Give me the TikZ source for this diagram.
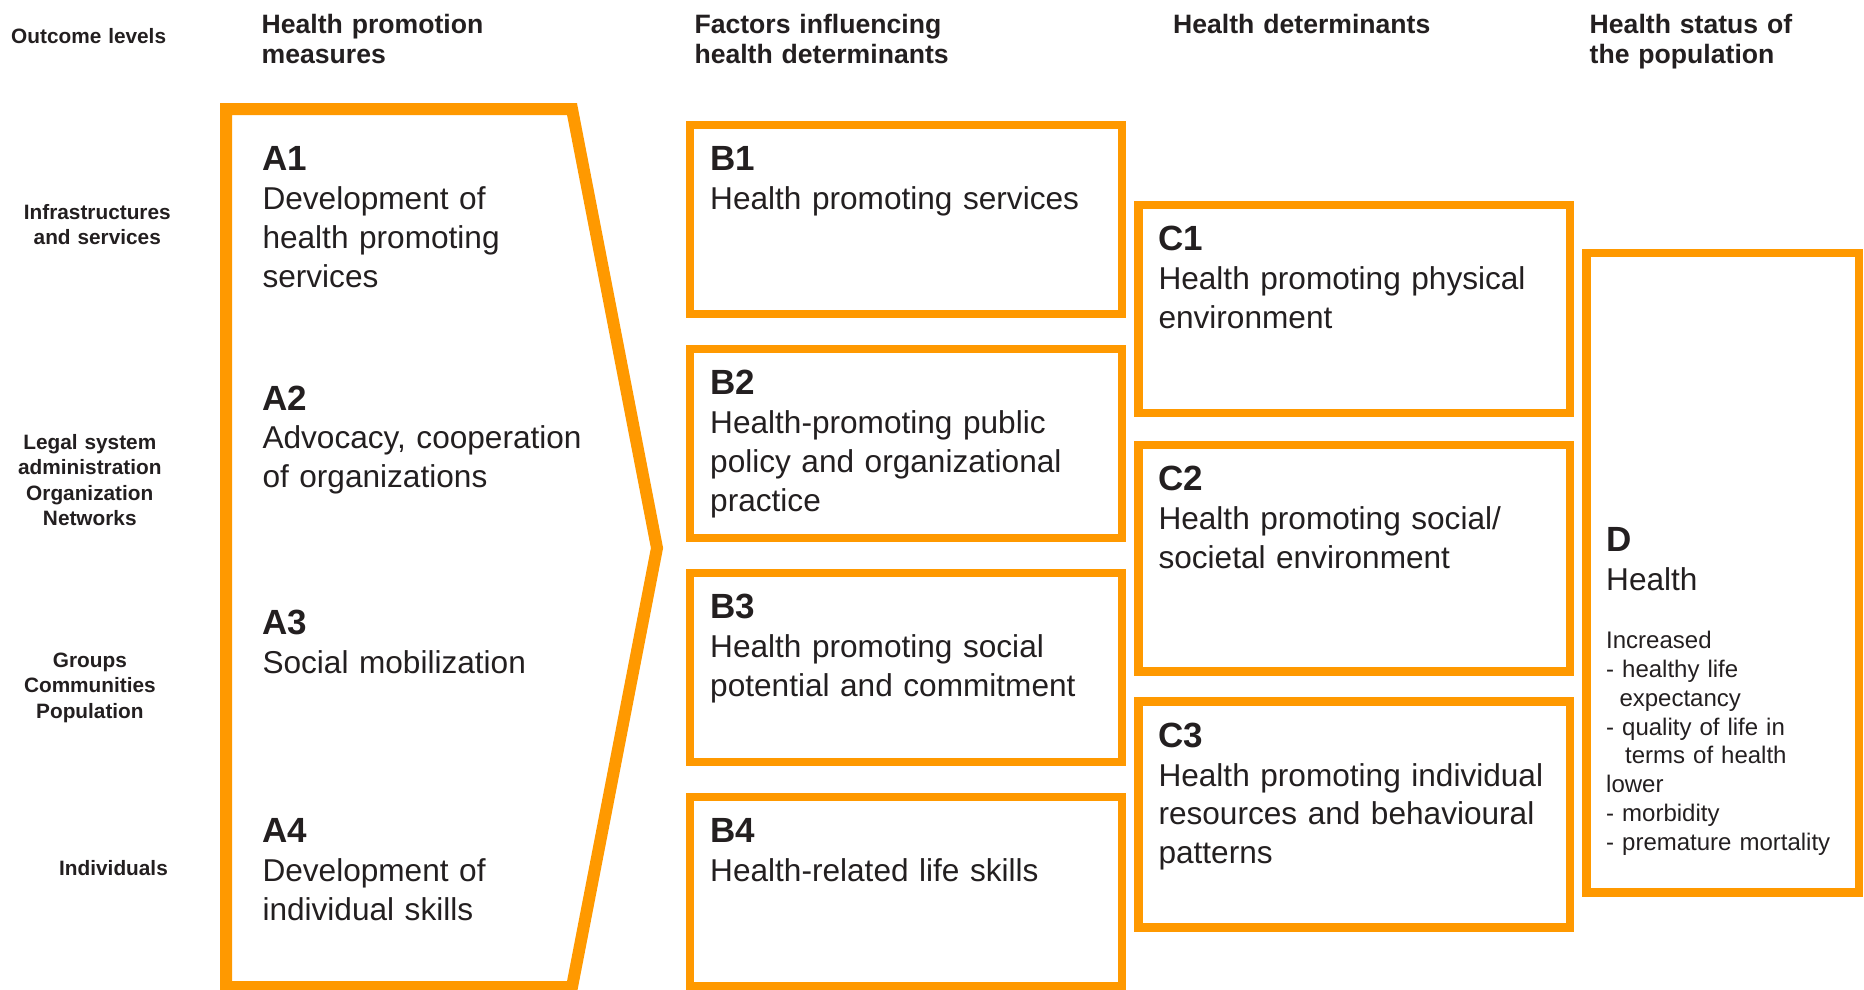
\documentclass[tikz,border=0pt]{standalone}
\usepackage{fontspec}
\setmainfont{Liberation Sans}
\usetikzlibrary{positioning}
\definecolor{hporange}{RGB}{255,153,0}
\definecolor{hptext}{RGB}{35,31,32}
\newcommand{\boxlbl}[1]{{\fontsize{35}{38.8}\selectfont\bfseries #1}}

\begin{document}
\begin{tikzpicture}[x=1pt, y=-1pt, text=hptext,
  hbox/.style={draw=hporange, line width=8.3pt, inner sep=0pt, outer sep=0pt},
  hdr/.style={anchor=base west, inner sep=0pt, text width=320pt, align=left, font=\fontsize{26.6}{30}\selectfont\bfseries},
  lvl/.style={anchor=base, inner sep=0pt, text width=200pt, align=center, font=\fontsize{20.8}{25.6}\selectfont\bfseries},
  txt/.style={anchor=base west, inner sep=0pt, text width=420pt, align=left, font=\fontsize{31.6}{38.8}\selectfont},
  small/.style={anchor=base west, inner sep=0pt, text width=250pt, align=left, font=\fontsize{24}{28.9}\selectfont}]
\useasboundingbox (0,0) rectangle (1864,990);

% column headings
\node[hdr, font=\fontsize{20.8}{25.6}\selectfont\bfseries] (h0) at (11,43.3) {Outcome levels};
\node[hdr] (h1) at (261.5,33.3) {Health promotion\\measures};
\node[hdr] (h2) at (694.3,33.3) {Factors influencing\\health determinants};
\node[hdr] (h3) at (1173,33.3) {Health determinants};
\node[hdr] (h4) at (1589.5,33.3) {Health status of\\the population};

% outcome levels
\node[lvl] (l1) at (97.3,219) {Infrastructures\\and services};
\node[lvl] (l2) at (89.8,449.1) {Legal system\\administration\\Organization\\Networks};
\node[lvl] (l3) at (89.9,667.2) {Groups\\Communities\\Population};
\node[lvl] (l4) at (113.5,875.2) {Individuals};

% A: health promotion measures
\coordinate (pa) at (226,109);
\draw[hporange, line width=12pt, miter limit=3] (pa) -- (572,109) -- (657,548) -- (572,987) -- (226,987) -- cycle;
\node[txt] (a1) at ([shift={(36.3,61.7)}]pa) {\boxlbl{A1}\\Development of\\health promoting\\services};
\node[txt] (a2) at ([shift={(36.3,301)}]pa) {\boxlbl{A2}\\Advocacy, cooperation\\of organizations};
\node[txt] (a3) at ([shift={(36.3,525.5)}]pa) {\boxlbl{A3}\\Social mobilization};
\node[txt] (a4) at ([shift={(36.3,733.6)}]pa) {\boxlbl{A4}\\Development of\\individual skills};

% B: factors influencing health determinants
\node[hbox, minimum width=432pt, minimum height=189pt] (b1) at (906,219.5) {};
\node[hbox, minimum width=432pt, minimum height=189pt, below=35pt of b1] (b2) {};
\node[hbox, minimum width=432pt, minimum height=189pt, below=35pt of b2] (b3) {};
\node[hbox, minimum width=432pt, minimum height=189pt, below=35pt of b3] (b4) {};
\node[txt] (b1t) at ([shift={(20,45.7)}]b1.north west) {\boxlbl{B1}\\Health promoting services};
\node[txt] (b2t) at ([shift={(20,45.7)}]b2.north west) {\boxlbl{B2}\\Health-promoting public\\policy and organizational\\practice};
\node[txt] (b3t) at ([shift={(20,45.7)}]b3.north west) {\boxlbl{B3}\\Health promoting social\\potential and commitment};
\node[txt] (b4t) at ([shift={(20,45.7)}]b4.north west) {\boxlbl{B4}\\Health-related life skills};

% C: health determinants
\node[hbox, minimum width=431.5pt, minimum height=208pt] (c1) at (1354.25,309) {};
\node[hbox, minimum width=431.5pt, minimum height=226.5pt, below=32pt of c1] (c2) {};
\node[hbox, minimum width=431.5pt, minimum height=226pt, below=30pt of c2] (c3) {};
\node[txt] (c1t) at ([shift={(19.8,45.7)}]c1.north west) {\boxlbl{C1}\\Health promoting physical\\environment};
\node[txt] (c2t) at ([shift={(19.8,45.7)}]c2.north west) {\boxlbl{C2}\\Health promoting social/\\societal environment};
\node[txt] (c3t) at ([shift={(19.8,45.7)}]c3.north west) {\boxlbl{C3}\\Health promoting individual\\resources and behavioural\\patterns};

% D: health status
\node[hbox, minimum width=272.5pt, minimum height=639.2pt] (d) at (1722.75,572.9) {};
\node[txt] (dt) at ([shift={(19.5,298.4)}]d.north west) {\boxlbl{D}\\Health};
\node[small] (dl) at ([shift={(19.5,395)}]d.north west) {Increased\\- healthy life\\\hspace*{13.3pt}expectancy\\- quality of life in\\\hspace*{19pt}terms of health\\lower\\- morbidity\\- premature mortality};
\end{tikzpicture}
\end{document}
